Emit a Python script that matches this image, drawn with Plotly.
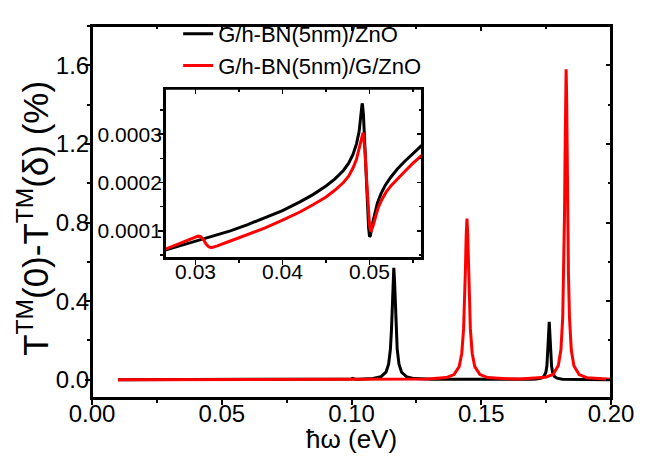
import plotly.graph_objects as go

# ---------------- data ----------------
series_names = ["G/h-BN(5nm)/ZnO", "G/h-BN(5nm)/G/ZnO"]

black_x = [0.010, 0.050, 0.090, 0.098, 0.100, 0.1005, 0.101, 0.103, 0.1083, 0.1113,
           0.1133, 0.1143, 0.1150, 0.1154, 0.1157, 0.1160, 0.1163, 0.1166, 0.1169,
           0.1172, 0.1176, 0.1183, 0.1193, 0.1213, 0.1243, 0.1313, 0.150, 0.160,
           0.1692, 0.1712, 0.1732, 0.1742, 0.1749, 0.1753, 0.1756, 0.1759, 0.1762,
           0.1765, 0.1768, 0.1771, 0.1775, 0.1782, 0.1792, 0.1812, 0.190, 0.200]
black_y = [0.0, 0.0003, 0.0012, 0.002, 0.004, 0.007, 0.004, 0.003, 0.0066, 0.015,
           0.039, 0.079, 0.157, 0.252, 0.365, 0.50, 0.57, 0.50, 0.365,
           0.252, 0.157, 0.079, 0.038, 0.014, 0.0056, 0.0018, 0.0005, 0.001,
           0.0025, 0.004, 0.009, 0.018, 0.038, 0.07, 0.121, 0.217, 0.295,
           0.217, 0.121, 0.07, 0.038, 0.017, 0.008, 0.003, 0.0008, 0.0003]

red_x = [0.010, 0.050, 0.090, 0.110, 0.1295, 0.1365, 0.1395, 0.1415, 0.1425, 0.1432,
         0.1436, 0.1439, 0.1442, 0.1445, 0.1448, 0.1451, 0.1454, 0.1458, 0.1465,
         0.1475, 0.1495, 0.1525, 0.1595, 0.165, 0.1747, 0.1777, 0.1797, 0.1807,
         0.1814, 0.1818, 0.1821, 0.1823, 0.1825, 0.1827, 0.1829, 0.1831, 0.1833,
         0.1836, 0.1840, 0.1847, 0.1857, 0.1877, 0.1907, 0.200]
red_y = [0.0, 0.0003, 0.001, 0.002, 0.0033, 0.011, 0.026, 0.067, 0.135, 0.26,
         0.40, 0.56, 0.735, 0.82, 0.735, 0.56, 0.40, 0.26, 0.135,
         0.067, 0.026, 0.011, 0.0045, 0.004, 0.012, 0.027, 0.072, 0.152,
         0.317, 0.542, 0.853, 1.146, 1.443, 1.58, 1.443, 1.146, 0.853,
         0.542, 0.316, 0.151, 0.071, 0.026, 0.0104, 0.003]

inset_black_x = [0.0265, 0.028, 0.030, 0.032, 0.034, 0.036, 0.038, 0.040, 0.042, 0.0435,
                 0.045, 0.046, 0.047, 0.0476, 0.0481, 0.0485, 0.0488, 0.0490, 0.0491,
                 0.04915, 0.0492, 0.0493, 0.0495, 0.0497, 0.0499, 0.0500, 0.0501, 0.0503,
                 0.0506, 0.0509, 0.0513, 0.0518, 0.0524, 0.0532, 0.0540, 0.0550, 0.0560]
inset_black_y = [0.000060, 0.000068, 0.000078, 0.000089, 0.000100, 0.000113, 0.000127,
                 0.000142, 0.000160, 0.000175, 0.000193, 0.000207, 0.000225, 0.000240,
                 0.000258, 0.000280, 0.000305, 0.000335, 0.000355, 0.000364, 0.000360,
                 0.000340, 0.000260, 0.000170, 0.000105, 0.000088, 0.000090, 0.000112,
                 0.000138, 0.000157, 0.000176, 0.000194, 0.000210, 0.000228, 0.000243,
                 0.000260, 0.000277]

inset_red_x = [0.0265, 0.028, 0.029, 0.0298, 0.0303, 0.0306, 0.0309, 0.0312, 0.0315,
               0.0318, 0.0321, 0.0325, 0.034, 0.036, 0.038, 0.040, 0.042, 0.0435,
               0.045, 0.046, 0.047, 0.0476, 0.0481, 0.0485, 0.0488, 0.0490, 0.0492,
               0.04925, 0.0493, 0.0495, 0.0497, 0.0499, 0.0500, 0.0501, 0.0502, 0.0504,
               0.0507, 0.0510, 0.0514, 0.0519, 0.0525, 0.0533, 0.0541, 0.0550, 0.0560]
inset_red_y = [0.000062, 0.000072, 0.000079, 0.000085, 0.000089, 0.000088, 0.000082,
               0.000073, 0.000067, 0.000065, 0.0000665, 0.000069, 0.000079, 0.000092,
               0.000106, 0.000122, 0.000139, 0.000154, 0.000170, 0.000184, 0.000200,
               0.000213, 0.000230, 0.000248, 0.000268, 0.000285, 0.000300, 0.000303,
               0.000300, 0.000260, 0.000195, 0.000135, 0.000112, 0.000101, 0.000100,
               0.000110, 0.000132, 0.000148, 0.000164, 0.000180, 0.000194, 0.000210,
               0.000224, 0.000240, 0.000256]

main_xticks = [0.00, 0.05, 0.10, 0.15, 0.20]
main_yticks = [0.0, 0.4, 0.8, 1.2, 1.6]
inset_xticks = [0.03, 0.04, 0.05]
inset_yticks = [0.0001, 0.0002, 0.0003]

# ---------------- styling ----------------
FONT = "Arial, Liberation Sans, sans-serif"
BLACK = "#000000"
RED = "#ff0000"
LW = 3

fig = go.Figure()
fig.add_trace(go.Scatter(x=black_x, y=black_y, mode="lines", name=series_names[0],
                         line=dict(color=BLACK, width=LW)))
fig.add_trace(go.Scatter(x=red_x, y=red_y, mode="lines", name=series_names[1],
                         line=dict(color=RED, width=LW)))
fig.add_trace(go.Scatter(x=inset_black_x, y=inset_black_y, mode="lines", showlegend=False,
                         line=dict(color=BLACK, width=LW), xaxis="x2", yaxis="y2"))
fig.add_trace(go.Scatter(x=inset_red_x, y=inset_red_y, mode="lines", showlegend=False,
                         line=dict(color=RED, width=LW), xaxis="x2", yaxis="y2"))
# empty traces so the mirrored (inside-tick) axes get drawn
fig.add_trace(go.Scatter(x=[], y=[], showlegend=False, hoverinfo="skip", xaxis="x3", yaxis="y3"))
fig.add_trace(go.Scatter(x=[], y=[], showlegend=False, hoverinfo="skip", xaxis="x4", yaxis="y4"))

main_rng_x = [0.0, 0.2]
main_rng_y = [-0.093, 1.80]
ins_rng_x = [0.02649, 0.05603]
ins_rng_y = [0.000044, 0.000394]
ins_dom_x = [0.1407, 0.6358]
ins_dom_y = [0.3766, 0.8312]

tickfont = dict(family=FONT, size=24, color=BLACK)
insfont = dict(family=FONT, size=21, color=BLACK)

def base_axis(**kw):
    d = dict(showgrid=False, zeroline=False, linecolor=BLACK, tickcolor=BLACK,
             showline=True, linewidth=2)
    d.update(kw)
    return d

# the page body has an 8px default margin: the figure is sized so that it
# fills the 647x457 window exactly from that offset
fig.update_layout(
    width=639, height=449,
    margin=dict(l=84, r=36, t=5, b=59),
    paper_bgcolor="white", plot_bgcolor="white",
    font=dict(family=FONT, color=BLACK),
    showlegend=True, hovermode=False,
    legend=dict(x=0.166, y=1.035, xanchor="left", yanchor="top",
                bgcolor="rgba(0,0,0,0)", font=dict(family=FONT, size=22, color=BLACK),
                tracegroupgap=0),
    xaxis=base_axis(range=main_rng_x, mirror=True,
                    ticks="outside", ticklen=5, tickwidth=2, tickvals=main_xticks,
                    tickformat=".2f", tickfont=tickfont, anchor="y", ticklabelstandoff=-12,
                    minor=dict(ticks="outside", ticklen=3, tickwidth=2, dtick=0.025,
                               tick0=0, tickcolor=BLACK)),
    yaxis=base_axis(range=main_rng_y, mirror=True,
                    ticks="outside", ticklen=5, tickwidth=2, tickvals=main_yticks,
                    tickformat=".1f", tickfont=tickfont, anchor="x", ticklabelstandoff=-9,
                    minor=dict(ticks="outside", ticklen=3, tickwidth=2, dtick=0.2,
                               tick0=0, tickcolor=BLACK)),
    xaxis3=base_axis(range=main_rng_x, overlaying="x", side="top", anchor="y",
                     ticks="inside", ticklen=5, tickwidth=2, tickvals=main_xticks,
                     showticklabels=False,
                     minor=dict(ticks="inside", ticklen=3, tickwidth=2, dtick=0.025,
                                tick0=0, tickcolor=BLACK)),
    yaxis3=base_axis(range=main_rng_y, overlaying="y", side="right", anchor="x",
                     ticks="inside", ticklen=5, tickwidth=2, tickvals=main_yticks,
                     showticklabels=False,
                     minor=dict(ticks="inside", ticklen=3, tickwidth=2, dtick=0.2,
                                tick0=0, tickcolor=BLACK)),
    xaxis2=base_axis(domain=ins_dom_x, range=ins_rng_x, anchor="y2",
                     mirror=True, ticks="outside", ticklen=5, tickwidth=1.5,
                     tickvals=inset_xticks, tickformat=".2f", tickfont=insfont,
                     ticklabelstandoff=-11,
                     minor=dict(ticks="outside", ticklen=3, tickwidth=1.5, dtick=0.005,
                                tick0=0, tickcolor=BLACK)),
    yaxis2=base_axis(domain=ins_dom_y, range=ins_rng_y, anchor="x2",
                     mirror=True, ticks="outside", ticklen=5, tickwidth=1.5,
                     tickvals=inset_yticks, tickformat=".4f", tickfont=insfont,
                     ticklabelstandoff=-8,
                     minor=dict(ticks="outside", ticklen=3, tickwidth=1.5, dtick=0.00005,
                                tick0=0, tickcolor=BLACK)),
    xaxis4=base_axis(range=ins_rng_x, overlaying="x2", side="top", anchor="y2",
                     ticks="inside", ticklen=5, tickwidth=1.5, tickvals=inset_xticks,
                     showticklabels=False,
                     minor=dict(ticks="inside", ticklen=3, tickwidth=1.5, dtick=0.005,
                                tick0=0, tickcolor=BLACK)),
    yaxis4=base_axis(range=ins_rng_y, overlaying="y2", side="right", anchor="x2",
                     ticks="inside", ticklen=5, tickwidth=1.5, tickvals=inset_yticks,
                     showticklabels=False,
                     minor=dict(ticks="inside", ticklen=3, tickwidth=1.5, dtick=0.00005,
                                tick0=0, tickcolor=BLACK)),
)

# frames of the main panel and of the inset (drawn in axis-domain units)
fig.add_shape(type="rect", xref="x domain", yref="y domain", x0=0, x1=1, y0=0, y1=1,
              line=dict(color=BLACK, width=2), fillcolor="rgba(0,0,0,0)", layer="above")
fig.add_shape(type="rect", xref="x2 domain", yref="y2 domain", x0=0, x1=1, y0=0, y1=1,
              line=dict(color=BLACK, width=2), fillcolor="rgba(0,0,0,0)", layer="above")

# axis titles
fig.add_annotation(text="ħω (eV)", xref="paper", yref="paper", x=0.5, y=-0.11,
                   xanchor="center", yanchor="middle", showarrow=False,
                   font=dict(family=FONT, size=26, color=BLACK))
fig.add_annotation(text="T<sup>TM</sup>(0)-T<sup>TM</sup>(δ) (%)", xref="paper", yref="paper",
                   x=-0.114, y=0.484, xanchor="center", yanchor="middle", textangle=-90,
                   showarrow=False, font=dict(family=FONT, size=35, color=BLACK))

fig.write_html("out.html", config={"displayModeBar": False, "staticPlot": True})
